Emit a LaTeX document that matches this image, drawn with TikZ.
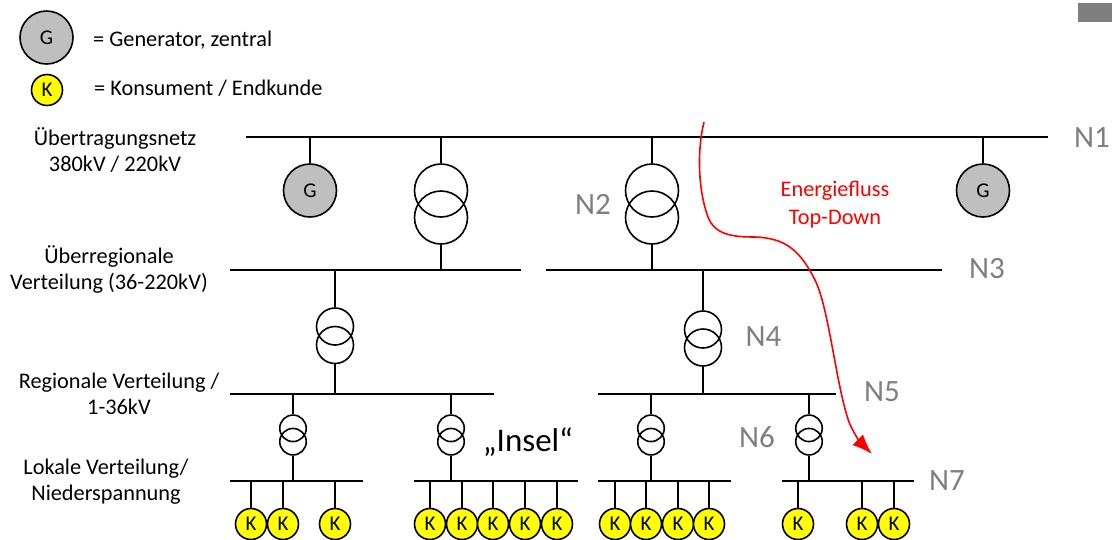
\documentclass[tikz,border=0pt]{standalone}
\usepackage{fontspec}
\setmainfont{Carlito}
\usetikzlibrary{arrows.meta}
\definecolor{gengray}{RGB}{191,191,191}
\definecolor{labgray}{RGB}{127,127,127}
\definecolor{kyellow}{RGB}{255,255,0}
\tikzset{
  bus/.style={line width=2pt,black},
  wire/.style={line width=1.9pt,black},
  hvwire/.style={line width=2.6pt,black},
  gen/.style={circle,draw=black,line width=1.6pt,fill=gengray,minimum size=53pt,inner sep=0pt,text=black,font=\fontsize{21}{22}\selectfont},
  cons/.style={circle,draw=black,line width=1.6pt,fill=kyellow,minimum size=31pt,inner sep=0pt,text=black,font=\fontsize{21}{22}\selectfont},
  coilL/.style={circle,draw=black,line width=1.6pt,minimum size=53pt,inner sep=0pt},
  coilM/.style={circle,draw=black,line width=1.6pt,minimum size=37pt,inner sep=0pt},
  coilS/.style={circle,draw=black,line width=1.6pt,minimum size=26.5pt,inner sep=0pt},
  lab/.style={align=center,text=black,inner sep=0pt,font=\fontsize{22.3}{26.5}\selectfont},
  netz/.style={text=labgray,inner sep=0pt,font=\fontsize{31}{32}\selectfont},
  flow/.style={align=center,text=red,inner sep=0pt,font=\fontsize{22.3}{28}\selectfont}
}
\begin{document}
\begin{tikzpicture}[x=1pt,y=-1pt]
\useasboundingbox (0,0) rectangle (1112,539);
\fill[fill=labgray] (1078,2.5) rectangle (1112,22);
% legend
\node[gen] (lg) at (46.5,37.5) {G};
\node[cons] (lk) at (47,90) {K};
\node[lab,anchor=west] (lgt) at (93,40) {= Generator, zentral};
\node[lab,anchor=west] (lkt) at (94,88.5) {= Konsument / Endkunde};
% level labels
\node[lab] (l1) at (115,150) {Übertragungsnetz\\380kV / 220kV};
\node[lab] (l2) at (109,269.5) {Überregionale\\Verteilung (36-220kV)};
\node[lab] (l3) at (119,394) {Regionale Verteilung /\\1-36kV};
\node[lab] (l4) at (106,481.5) {Lokale Verteilung/\\Niederspannung};
% bus ends
\coordinate (b1l) at (246,137); \coordinate (b1r) at (1048,137);
\coordinate (b2l) at (230,269.5); \coordinate (b2r) at (521,269.5);
\coordinate (b3l) at (546,269.5); \coordinate (b3r) at (942,269.5);
\coordinate (b4l) at (230,394); \coordinate (b4r) at (494,394);
\coordinate (b5l) at (598,394); \coordinate (b5r) at (836,394);
\coordinate (b6l) at (230,481.3); \coordinate (b6r) at (363,481.3);
\coordinate (b7l) at (414,481.3); \coordinate (b7r) at (578,481.3);
\coordinate (b8l) at (598,481.3); \coordinate (b8r) at (730.5,481.3);
\coordinate (b9l) at (782,481.3); \coordinate (b9r) at (914,481.3);
\foreach \b in {1,...,9} \draw[bus] (b\b l) -- (b\b r);
% generators
\node[gen] (g1) at (310,190.5) {G};
\node[gen] (g2) at (983,190.5) {G};
\draw[wire] (g1.north) -- (g1.north |- b1l);
\draw[wire] (g2.north) -- (g2.north |- b1l);
% large transformers
\foreach \t/\x/\low in {a/441/b2l,b/652/b3l}{
  \node[coilL] (t\t u) at (\x,190.5) {};
  \node[coilL] (t\t d) at (\x,217.5) {};
  \draw[hvwire] (t\t u.north) -- (t\t u.north |- b1l);
  \draw[hvwire] (t\t d.south) -- (t\t d.south |- \low);
}
% medium transformers
\node[coilM] (tcu) at (335,326.5) {};
\node[coilM] (tcd) at (335,345) {};
\draw[wire] (tcu.north) -- (tcu.north |- b2l);
\draw[wire] (tcd.south) -- (tcd.south |- b4l);
\node[coilM] (tdu) at (703,329.5) {};
\node[coilM] (tdd) at (703,347.5) {};
\draw[wire] (tdu.north) -- (tdu.north |- b3l);
\draw[wire] (tdd.south) -- (tdd.south |- b5l);
% small transformers
\foreach \t/\x/\hi/\low in {e/293/b4l/b6l,f/451/b4l/b7l,g/651/b5l/b8l,h/809/b5l/b9l}{
  \node[coilS] (t\t u) at (\x,428.3) {};
  \node[coilS] (t\t d) at (\x,441.7) {};
  \draw[wire] (t\t u.north) -- (t\t u.north |- \hi);
  \draw[wire] (t\t d.south) -- (t\t d.south |- \low);
}
% consumers
\foreach \n/\x/\low in {1/251/b6l,2/283/b6l,3/335/b6l,
  4/430/b7l,5/462/b7l,6/493/b7l,7/525/b7l,8/557/b7l,
  9/615/b8l,10/646/b8l,11/678/b8l,12/709/b8l,
  13/798/b9l,14/862/b9l,15/894/b9l}{
  \node[cons] (k\n) at (\x,524) {K};
  \draw[wire] (k\n.north) -- (k\n.north |- \low);
}
% network level labels
\node[netz] (n1) at (1092,137.5) {N1};
\node[netz] (n2) at (593,204.5) {N2};
\node[netz] (n3) at (987,269) {N3};
\node[netz] (n4) at (763.5,336.5) {N4};
\node[netz] (n5) at (882,392) {N5};
\node[netz] (n6) at (757,437.5) {N6};
\node[netz] (n7) at (947,480.5) {N7};
\node[inner sep=0pt,text=black,font=\fontsize{33}{34}\selectfont] (insel) at (528,442.5) {„Insel“};
% energy flow
\node[flow] (ef) at (835,204.5) {Energiefluss\\Top-Down};
\coordinate (fs) at (704,122);
\coordinate (fe) at (872,454);
\draw[red,line width=1.6pt,-{Latex[length=20pt,width=15pt]}] (fs)
  .. controls (697,150) and (698,190) .. (708,217)
  .. controls (715,235) and (733,237) .. (755,237)
  .. controls (785,238) and (800,250) .. (815,280)
  .. controls (829,308) and (836,385) .. (849,422)
  .. controls (853,432) and (860,442) .. (fe);
\end{tikzpicture}
\end{document}
